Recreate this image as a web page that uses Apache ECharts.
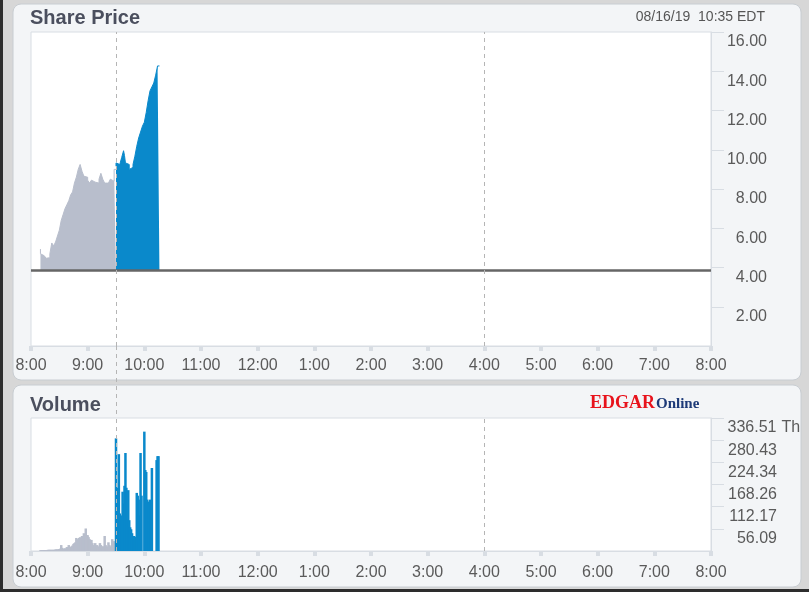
<!DOCTYPE html>
<html>
<head>
<meta charset="utf-8">
<script src="https://cdn.jsdelivr.net/npm/echarts@6/dist/echarts.min.js"></script>
<style>html,body{margin:0;padding:0;background:#d7d7d7;}#c{width:809px;height:592px;}</style>
</head>
<body>
<div id="c"></div>
<script>
// ---- data ----
const xTickLabels = ['8:00','9:00','10:00','11:00','12:00','1:00','2:00','3:00','4:00','5:00','6:00','7:00','8:00'];
const priceTickLabels = ['0.00','2.00','4.00','6.00','8.00','10.00','12.00','14.00','16.00'];
const volTickLabels = ['0','56.09','112.17','168.26','224.34','280.43','336.51'];
const previousClose = 3.85;
const marketOpen = 90;   // minutes after 8:00 (9:30)
const marketClose = 480; // 4:00

const preMinutes = [10,12,14,16,18,20,22,24,26,28,30,32,34,36,38,40,42,44,46,48,50,52,54,56,58,60,62,64,66,68,70,72,74,76,78,80,82,84,86,88,90];
const prePrice   = [4.94,4.7,4.6,4.55,4.47,4.5,4.7,5.25,5.1,5.3,5.6,5.9,6.4,6.7,7.0,7.2,7.4,7.7,7.85,8.3,8.6,9.0,9.25,8.9,8.65,8.6,8.45,8.3,8.45,8.35,8.3,8.3,8.5,8.8,8.5,8.3,8.3,8.3,8.5,8.4,9.0];

const mktMinutes = [90,92,94,96,98,99,100,102,104,106,108,110,112,114,116,118,120,122,124,126,128,130,132,134,136];
const mktPrice   = [9.16,9.33,9.25,9.2,9.6,9.95,9.7,9.33,9.25,9.0,9.1,9.25,9.67,10.18,10.6,10.9,11.2,11.4,11.9,12.5,13.0,13.2,13.4,13.8,14.27];

const preVolStart = 10;
const preVol = [2,2,2,2,2,2,2,2,3,3, 3,3,3,3,3,3,4,4,4,4, 5,6,15,8,5,6,7,5,10,8, 15,10,8,12,14,18,20,22,33,25, 30,33,35,30,38,35,45,40,57,40, 40,35,30,28,28,20,15,12,20,10, 15,10,12,20,15,12,10,12,38,15, 12,10,22,15,10,12,30,15,25,20];
const mktVolStart = 90;
const mktVol = [285,160,150,245,95,87,90,150,120,165, 248,160,80,154,78,60,55,45,36,38, 30,36,147,140,130,90,248,140,0,0, 302,205,200,130,121,125,130,125,210,0, 0,0,0,230,240,240];

// ---- build ----
const zip = (xs, ys) => xs.map((x, i) => [x, ys[i]]);

const grayC = '#b8becc', blueC = '#0a89cb';
const axisGray = '#d8dde3';
const labelC = '#5a5a5a';

const volItems = preVol.map((v, i) => ({value: [preVolStart + i, v], itemStyle: {color: grayC}}))
  .concat(mktVol.map((v, i) => ({value: [mktVolStart + i, v], itemStyle: {color: blueC}})));

const vlines = {
  silent: true, symbol: 'none', label: {show: false},
  lineStyle: {color: '#b5b5b5', type: [4, 4], width: 1},
  data: [{xAxis: marketOpen}, {xAxis: marketClose}]
};

const xAxisBase = (gi, margin) => ({
  type: 'value', gridIndex: gi, min: 0, max: 720, interval: 60,
  axisLine: {show: true, onZero: false, lineStyle: {color: axisGray}},
  axisTick: {show: true, length: 5, lineStyle: {color: axisGray, width: 4}},
  splitLine: {show: false},
  axisLabel: {color: labelC, fontSize: 16, fontFamily: 'Liberation Sans, Arial', margin: margin,
    formatter: v => xTickLabels[Math.round(v / 60)]}
});

const option = {
  animation: false,
  backgroundColor: '#d7d7d7',
  grid: [
    {left: 31, right: 98, top: 32, height: 314, show: true, backgroundColor: '#ffffff', borderColor: axisGray, borderWidth: 1},
    {left: 31, right: 98, top: 418, height: 133, show: true, backgroundColor: '#ffffff', borderColor: axisGray, borderWidth: 1}
  ],
  xAxis: [xAxisBase(0, 12), xAxisBase(1, 14)],
  yAxis: [
    {type: 'value', gridIndex: 0, position: 'right', min: 0, max: 16, interval: 2,
     axisLine: {show: true, onZero: false, lineStyle: {color: axisGray}},
     axisTick: {show: true, inside: false, length: 13, lineStyle: {color: axisGray}},
     splitLine: {show: false},
     axisLabel: {showMinLabel: false, color: labelC, fontSize: 16, fontFamily: 'Liberation Sans, Arial',
       align: 'right', margin: 56, verticalAlign: 'top', padding: [2, 0, 0, 0],
       formatter: v => priceTickLabels[Math.round(v / 2)]}},
    {type: 'value', gridIndex: 1, position: 'right', min: 0, max: 336.51, interval: 56.085,
     axisLine: {show: true, onZero: false, lineStyle: {color: axisGray}},
     axisTick: {show: true, inside: false, length: 13, lineStyle: {color: axisGray}},
     splitLine: {show: false},
     axisLabel: {showMinLabel: false, color: labelC, fontSize: 16, fontFamily: 'Liberation Sans, Arial',
       align: 'left', margin: 16, verticalAlign: 'top', padding: [2, 0, 0, 0],
       formatter: v => {
         const i = Math.round(v / 56.085);
         return '{n|' + volTickLabels[i] + '}' + (i === volTickLabels.length - 1 ? ' Th' : '');
       },
       rich: {n: {width: 50, align: 'right', color: labelC, fontSize: 16, fontFamily: 'Liberation Sans, Arial'}}}}
  ],
  series: [
    {type: 'line', xAxisIndex: 0, yAxisIndex: 0, data: zip(preMinutes, prePrice), step: 'start',
     symbol: 'none', lineStyle: {color: grayC, width: 1}, areaStyle: {color: grayC, opacity: 1, origin: previousClose},
     z: 2},
    {type: 'line', xAxisIndex: 0, yAxisIndex: 0, data: zip(mktMinutes, mktPrice), step: 'start',
     symbol: 'none', lineStyle: {color: blueC, width: 1}, areaStyle: {color: blueC, opacity: 1, origin: previousClose},
     z: 3,
     markLine: {silent: true, symbol: 'none', label: {show: false}, z: 5,
       lineStyle: {color: '#666666', width: 2.5, type: 'solid'},
       data: [{yAxis: previousClose}]}},
    {type: 'line', xAxisIndex: 0, yAxisIndex: 0, data: [], markLine: vlines, z: 4},
    {type: 'bar', xAxisIndex: 1, yAxisIndex: 1, data: volItems,
     barWidth: 2.5, barMinWidth: 2.5, barMaxWidth: 3, large: false},
    {type: 'line', xAxisIndex: 1, yAxisIndex: 1, data: [], markLine: vlines}
  ],
  graphic: {elements: [
    {type: 'rect', z: -10, shape: {x: 0, y: 0, width: 3, height: 592}, style: {fill: '#2d2d2d'}},
    {type: 'rect', z: -10, shape: {x: 0, y: 589, width: 809, height: 3}, style: {fill: '#2d2d2d'}},
    {type: 'rect', z: -9, shape: {x: 13, y: 4, width: 788, height: 376, r: 8}, style: {fill: '#f3f5f7', stroke: '#c8cdd2', lineWidth: 1}},
    {type: 'rect', z: -9, shape: {x: 13, y: 385, width: 788, height: 202, r: 8}, style: {fill: '#f3f5f7', stroke: '#c8cdd2', lineWidth: 1}},
    {type: 'text', z: 10, x: 30, y: 18, style: {text: 'Share Price', fill: '#4b4f5e', font: 'bold 20px "Liberation Sans", Arial', verticalAlign: 'middle'}},
    {type: 'text', z: 10, x: 30, y: 405, style: {text: 'Volume', fill: '#4b4f5e', font: 'bold 20px "Liberation Sans", Arial', verticalAlign: 'middle'}},
    {type: 'text', z: 10, x: 765, y: 17, style: {text: '08/16/19  10:35 EDT', fill: '#555', font: '14px "Liberation Sans", Arial', align: 'right', verticalAlign: 'middle'}},
    {type: 'text', z: 10, x: 590, y: 403, style: {text: '{e|EDGAR}{o|Online}', verticalAlign: 'middle',
      rich: {e: {fill: '#e8131c', font: 'bold 18px "Liberation Serif", "Times New Roman"'},
             o: {fill: '#1d3a78', font: 'bold 15px "Liberation Serif", "Times New Roman"', padding: [3, 0, 0, 1]}}}}
  ]}
};

const chart = echarts.init(document.getElementById('c'), null, {renderer: 'canvas'});
chart.setOption(option);
// bridge the 9:30 dashed line across the gap between both panels
const pTop = chart.convertToPixel({xAxisIndex: 0, yAxisIndex: 0}, [marketOpen, 0]);
const vTop = chart.convertToPixel({xAxisIndex: 1, yAxisIndex: 1}, [marketOpen, 336.51]);
const xo = Math.round(pTop[0]) + 0.5;
chart.setOption({graphic: {elements: option.graphic.elements.concat([
  {type: 'line', z: 8, shape: {x1: xo, y1: pTop[1], x2: xo, y2: vTop[1]}, style: {stroke: '#b5b5b5', lineDash: [4, 4], lineWidth: 1}}
])}});
</script>
</body>
</html>
